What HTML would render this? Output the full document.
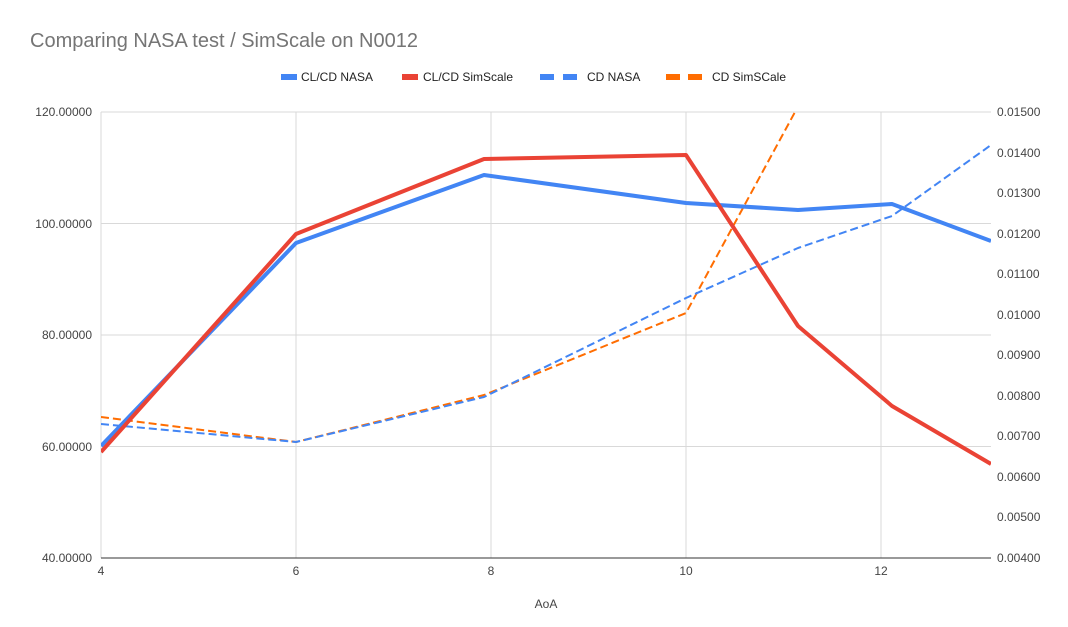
<!DOCTYPE html>
<html><head><meta charset="utf-8"><style>body{margin:0;background:#fff}svg{display:block;font-family:"Liberation Sans",Arial,sans-serif}</style></head><body>
<svg width="1068" height="627" viewBox="0 0 1068 627">
<rect width="1068" height="627" fill="#fff"/>
<text x="30" y="47" font-size="20" fill="#757575">Comparing NASA test / SimScale on N0012</text>
<g font-size="12" fill="#222">
<rect x="281" y="74" width="16" height="6" fill="#4285f4"/><text x="301" y="81">CL/CD NASA</text>
<rect x="402" y="74" width="16" height="6" fill="#ea4335"/><text x="423" y="81">CL/CD SimScale</text>
<rect x="540" y="74" width="14" height="6" fill="#4285f4"/><rect x="563" y="74" width="14" height="6" fill="#4285f4"/><text x="587" y="81">CD NASA</text>
<rect x="666" y="74" width="14" height="6" fill="#ff6d01"/><rect x="688" y="74" width="14" height="6" fill="#ff6d01"/><text x="712" y="81">CD SimSCale</text>
</g>
<g stroke="#d9d9d9" stroke-width="1">
<line x1="101" y1="112" x2="991" y2="112"/><line x1="101" y1="223.5" x2="991" y2="223.5"/><line x1="101" y1="335" x2="991" y2="335"/><line x1="101" y1="446.5" x2="991" y2="446.5"/>
<line x1="101" y1="112" x2="101" y2="558"/><line x1="296" y1="112" x2="296" y2="558"/><line x1="491" y1="112" x2="491" y2="558"/><line x1="686" y1="112" x2="686" y2="558"/><line x1="881" y1="112" x2="881" y2="558"/>
</g>
<line x1="101" y1="558" x2="991" y2="558" stroke="#333" stroke-width="1"/>
<g font-size="12" fill="#444" text-anchor="end">
<text x="92" y="116">120.00000</text><text x="92" y="228">100.00000</text><text x="92" y="339">80.00000</text><text x="92" y="451">60.00000</text><text x="92" y="562">40.00000</text>
</g>
<g font-size="12" fill="#444" text-anchor="start">
<text x="997" y="116">0.01500</text><text x="997" y="157">0.01400</text><text x="997" y="197">0.01300</text><text x="997" y="238">0.01200</text><text x="997" y="278">0.01100</text><text x="997" y="319">0.01000</text><text x="997" y="359">0.00900</text><text x="997" y="400">0.00800</text><text x="997" y="440">0.00700</text><text x="997" y="481">0.00600</text><text x="997" y="521">0.00500</text><text x="997" y="562">0.00400</text>
</g>
<g font-size="12" fill="#444" text-anchor="middle">
<text x="101" y="575">4</text><text x="296" y="575">6</text><text x="491" y="575">8</text><text x="686" y="575">10</text><text x="881" y="575">12</text>
<text x="546" y="608">AoA</text>
</g>
<defs><clipPath id="c"><rect x="101" y="110" width="890" height="450"/></clipPath></defs>
<g clip-path="url(#c)" fill="none" stroke-linejoin="round">
<polyline points="101,417 296,442 484,395 686,313 795,112" stroke="#ff6d01" stroke-width="2" stroke-dasharray="8,4"/>
<polyline points="101,424 296,442 484,397 686,298 798,248 892,216 991,145" stroke="#4285f4" stroke-width="2" stroke-dasharray="8,4"/>
<polyline points="101,446 296,243 484,175 686,203 798,210 892,204 991,241" stroke="#4285f4" stroke-width="4"/>
<polyline points="101,452 296,234 484,159 686,155 798,326 892,406 991,464" stroke="#ea4335" stroke-width="4"/>
</g>
</svg>
</body></html>
